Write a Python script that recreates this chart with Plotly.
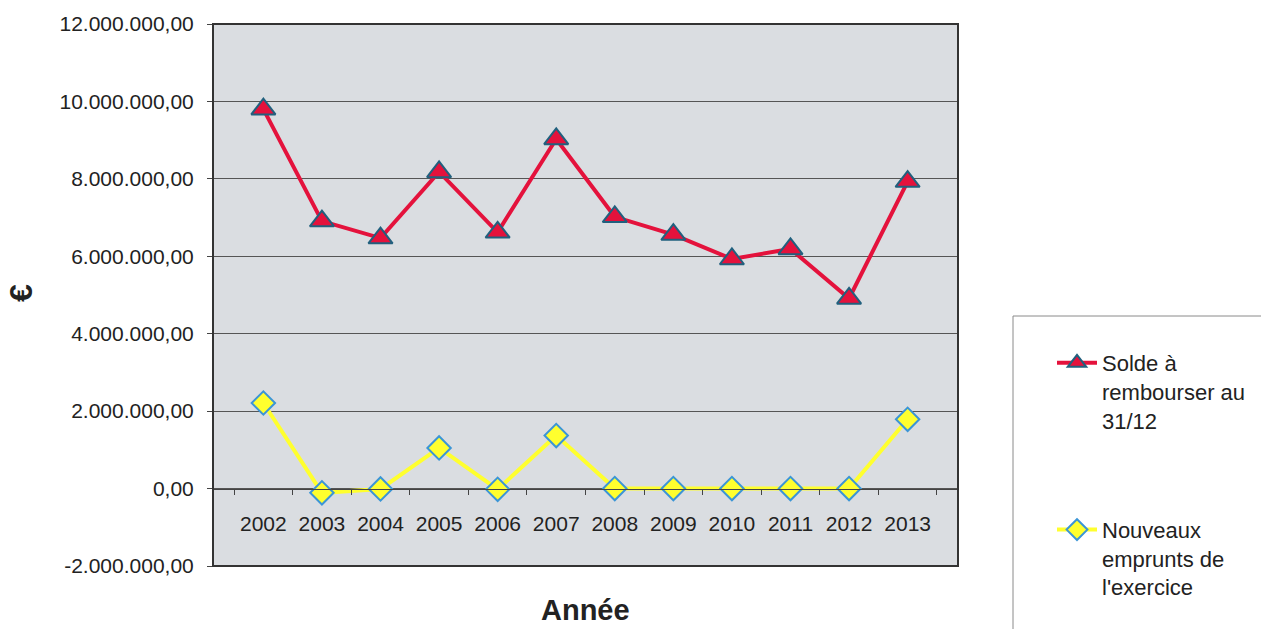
import plotly.graph_objects as go

years = ["2002", "2003", "2004", "2005", "2006", "2007", "2008", "2009", "2010", "2011", "2012", "2013"]
solde = [9800000, 6910000, 6470000, 8180000, 6620000, 9030000, 7020000, 6560000, 5930000, 6190000, 4910000, 7930000]
nouveaux = [2210000, -110000, -10000, 1050000, -20000, 1370000, 0, 0, 0, 0, 0, 1790000]
y_ticks = [-2000000, 0, 2000000, 4000000, 6000000, 8000000, 10000000, 12000000]
y_tick_labels = ["-2.000.000,00", "0,00", "2.000.000,00", "4.000.000,00", "6.000.000,00",
                 "8.000.000,00", "10.000.000,00", "12.000.000,00"]
series_names = ["Solde à<br>rembourser au<br>31/12", "Nouveaux<br>emprunts de<br>l'exercice"]

FONT = "Liberation Sans, Arial, sans-serif"
W, H = 1261, 629
# plot area in page pixels: x 213..958, y 24..566
L, T = 213, 24
pw, ph = 745, 542
R = W - L - pw
B = H - T - ph

def px_x(p):
    return (p - L) / pw

def px_y(p):
    return (T + ph - p) / ph

fig = go.Figure()
fig.add_trace(go.Scatter(
    x=years, y=solde, name=series_names[0], mode="lines+markers",
    line=dict(color="#e4123c", width=4),
    marker=dict(symbol="triangle-up", size=21, color="#e4123c",
                line=dict(color="#21607e", width=2)),
    legendgroup="a",
))
fig.add_trace(go.Scatter(
    x=years, y=nouveaux, name=series_names[1], mode="lines+markers",
    line=dict(color="#ffff2e", width=4),
    marker=dict(symbol="diamond", size=18, color="#ffff2e",
                line=dict(color="#3b95d6", width=2)),
    legendgroup="b",
))

box_x0, box_y0 = px_x(1013), px_y(316)

fig.update_layout(
    width=W, height=H,
    margin=dict(l=L, r=R, t=T, b=B, autoexpand=False),
    paper_bgcolor="white",
    plot_bgcolor="#dadde1",
    font=dict(family=FONT, size=21, color="#222222"),
    showlegend=True,
    legend=dict(
        x=px_x(1052), y=px_y(342), xanchor="left", yanchor="top",
        bgcolor="rgba(0,0,0,0)", borderwidth=0,
        font=dict(family=FONT, size=22, color="#222222"),
        traceorder="grouped", tracegroupgap=78, valign="top",
        itemwidth=40,
    ),
    xaxis=dict(
        type="category", anchor="free", position=2 / 14,
        showline=True, linecolor="#444444", linewidth=1,
        ticks="outside", ticklen=5, tickcolor="#444444", tickson="boundaries",
        showgrid=False, ticklabelstandoff=16,
        tickfont=dict(family=FONT, size=21, color="#222222"),
    ),
    yaxis=dict(
        range=[-2000000, 12000000], tickvals=y_ticks, ticktext=y_tick_labels,
        showgrid=True, gridcolor="#555555", gridwidth=1,
        zeroline=False, showline=False,
        ticks="outside", ticklen=5, tickcolor="#444444",
        ticklabelstandoff=9,
        tickfont=dict(family=FONT, size=21, color="#222222"),
    ),
    shapes=[
        dict(type="rect", xref="paper", yref="paper", x0=0, x1=1, y0=0, y1=1,
             line=dict(color="#333333", width=2), layer="above"),
        dict(type="line", xref="paper", yref="paper", x0=box_x0, x1=px_x(1400),
             y0=box_y0, y1=box_y0, line=dict(color="#8a8a8a", width=1)),
        dict(type="line", xref="paper", yref="paper", x0=box_x0, x1=box_x0,
             y0=box_y0, y1=px_y(800), line=dict(color="#8a8a8a", width=1)),
    ],
    annotations=[
        dict(text="<b>Année</b>", xref="paper", yref="paper", x=0.5, y=px_y(628),
             xanchor="center", yanchor="bottom", showarrow=False,
             font=dict(family=FONT, size=29, color="#222222")),
        dict(text="<b>€</b>", xref="paper", yref="paper", x=px_x(21), y=px_y(293),
             xanchor="center", yanchor="middle", showarrow=False, textangle=-90,
             font=dict(family=FONT, size=32, color="#222222")),
    ],
)

fig.write_html(
    "out.html",
    config={"displayModeBar": False},
    post_script="document.body.style.margin='0';document.body.style.overflow='hidden';",
)
